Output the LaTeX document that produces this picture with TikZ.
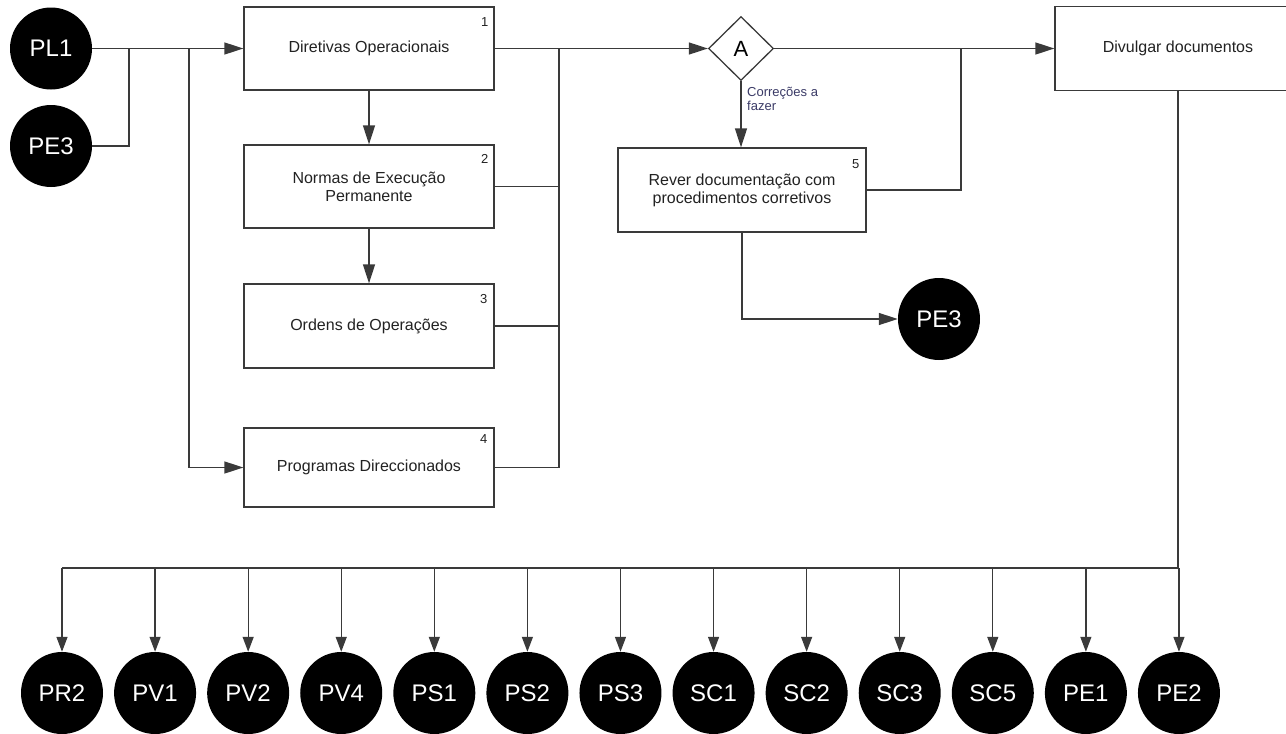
\documentclass[tikz,border=0pt]{standalone}
\usepackage{fontspec}
\setmainfont{Liberation Sans}
\usetikzlibrary{arrows.meta,shapes.geometric}
\definecolor{linec}{HTML}{3A3A3A}
\definecolor{textc}{HTML}{222222}
\definecolor{notec}{HTML}{3A3A66}
\begin{document}
\begin{tikzpicture}[x=1pt,y=-1pt,
  conn/.style={draw=linec, line width=1.3pt},
  arr/.style={conn, -{Triangle[length=19pt,width=12pt]}},
  arrs/.style={conn, -{Triangle[length=15pt,width=11pt]}},
  task/.style={draw=linec, line width=1.3pt, fill=white, text=textc, align=center,
    font=\fontsize{16}{18}\selectfont, minimum width=250pt, inner sep=0pt},
  num/.style={text=textc, font=\fontsize{13}{13}\selectfont, inner sep=0pt},
  ext/.style={circle, fill=black, text=white, minimum size=82pt, inner sep=0pt,
    font=\fontsize{24}{24}\selectfont},
  gate/.style={diamond, draw=linec, line width=1.3pt, fill=white, minimum width=65pt,
    minimum height=64pt, inner sep=0pt, font=\fontsize{22}{22}\selectfont},
  note/.style={text=notec, align=left, font=\fontsize{13}{14}\selectfont, inner sep=0pt}]
\clip (0,0) rectangle (1286,734);

% external sources
\node[ext] (pl1) at (51,48.5) {PL1};
\node[ext] (pe3a) at (51,146) {PE3};

% document tasks
\node[task, minimum height=83pt] (t1) at (369,48.5) {Diretivas Operacionais};
\node[task, minimum height=83pt] (t2) at (369,186.5) {Normas de Execução\\Permanente};
\node[task, minimum height=84pt] (t3) at (369,326) {Ordens de Operações};
\node[task, minimum height=79pt] (t4) at (369,467.5) {Programas Direccionados};
\node[gate] (a) at (741,48.5) {A};
\node[task, minimum width=248pt, minimum height=84pt] (t5) at (742,190) {Rever documentação com\\procedimentos corretivos};
\node[task, minimum width=246pt, minimum height=84pt] (t6) at (1178,48.5) {Divulgar documentos};
\node[ext] (pe3b) at (939,319) {PE3};

% task numbers
\node[num] (n1) at ([xshift=-10pt,yshift=-16pt]t1.north east) {1};
\node[num] (n2) at ([xshift=-10pt,yshift=-15pt]t2.north east) {2};
\node[num] (n3) at ([xshift=-11pt,yshift=-16pt]t3.north east) {3};
\node[num] (n4) at ([xshift=-11pt,yshift=-12pt]t4.north east) {4};
\node[num] (n5) at ([xshift=-11pt,yshift=-17pt]t5.north east) {5};

% junction points
\coordinate (j1) at (129,48.5);
\coordinate (j2) at (189,48.5);
\coordinate (j3) at (559,48.5);
\coordinate (j4) at (961,48.5);
\coordinate (bus) at (1178,568);

% inputs
\draw[arr] (pl1.east) -- (t1.west);
\draw[conn] (pe3a.east) -| (j1);
\draw[arr] (j2) |- (t4.west);
\draw[arr] (t1.south) -- (t2.north);
\draw[arr] (t2.south) -- (t3.north);

% collected outputs to the check
\draw[arr] (t1.east) -- (a.west);
\draw[conn] (t2.east) -| (j3);
\draw[conn] (t3.east) -| (j3);
\draw[conn] (t4.east) -| (j3);

% check outcomes
\draw[arr] (a.south) -- (a.south |- t5.north);
\node[note, anchor=north west] (lbl) at (747,87) {Correções a\\fazer};
\draw[arr] (a.east) -- (t6.west);
\draw[conn] (t5.east) -| (j4);
\draw[arr] (t5.south) |- (pe3b.west);

% distribution
\draw[conn] (t6.south) -- (bus);
\foreach \nm [count=\i from 0] in {PR2,PV1,PV2,PV4,PS1,PS2,PS3,SC1,SC2,SC3,SC5,PE1,PE2} {
  \node[ext] (b\i) at ({62+93.08*\i},693) {\nm};
  \draw[arrs] (b\i |- bus) -- (b\i.north);
}
\draw[conn] (b0 |- bus) -- (bus);
\end{tikzpicture}
\end{document}
